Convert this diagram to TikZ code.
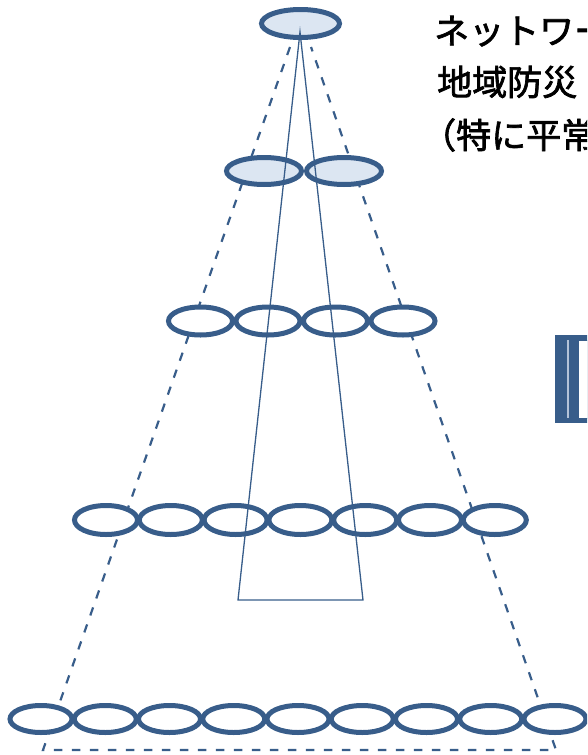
\documentclass[tikz,border=0pt]{standalone}
\usepackage{fontspec}
\newfontfamily\jpfont[FakeBold=2]{Noto Sans CJK JP}
\usetikzlibrary{shapes.geometric}
\definecolor{edgeblue}{HTML}{385D8A}
\definecolor{paleblue}{HTML}{DCE6F2}
\definecolor{stripeblue}{HTML}{B4C3D8}
\begin{document}
\begin{tikzpicture}[x=1pt,y=-1pt,
  ring/.style={ellipse, inner sep=0pt, outer sep=0pt},
  ringfill/.style={ring, draw=none, fill=#1},
  ringline/.style={ring, draw=edgeblue, line width=5pt},
  rowA/.style={minimum width=78pt, minimum height=28pt},
  rowB/.style={minimum width=75pt, minimum height=27pt},
  rowC/.style={minimum width=64pt, minimum height=28pt},
  rowD/.style={minimum width=63pt, minimum height=29pt},
  rowE/.style={minimum width=62pt, minimum height=27pt},
  reach/.style={draw=edgeblue, line width=2.2pt, dash pattern=on 8.5pt off 9.5pt},
  core/.style={draw=edgeblue, line width=1.3pt},
  caption/.style={anchor=west, inner sep=0pt, font=\jpfont\fontsize{35}{40}\selectfont, text=black}
]
\useasboundingbox (0,0) rectangle (587,755);
\clip (0,0) rectangle (587,755);

% outer dashed reach of the hierarchy
\coordinate (tl) at (290,47);
\coordinate (tr) at (311,47);
\coordinate (bl) at (43,750);
\coordinate (br) at (556,750);
\draw[reach] (tl) -- (bl) -- (br) -- (tr);

% rings: fills first, outlines afterwards
\node[ringfill=paleblue, rowA] (a0) at (300.5,23.5) {};
\foreach \i in {0,1}
  \node[ringfill=paleblue, rowB] (b\i) at ({264+80*\i},171) {};
\foreach \i in {0,...,3}
  \node[ringfill=white, rowC] (c\i) at ({200.5+67.5*\i},321) {};
\foreach \i in {0,...,6}
  \node[ringfill=white, rowD] (d\i) at ({106+64.8*\i},520) {};
\foreach \i in {0,...,8}
  \node[ringfill=white, rowE] (e\i) at ({41+64.25*\i},719) {};

\node[ringline, rowA] at (a0) {};
\foreach \i in {0,1} \node[ringline, rowB] at (b\i) {};
\foreach \i in {0,...,3} \node[ringline, rowC] at (c\i) {};
\foreach \i in {0,...,6} \node[ringline, rowD] at (d\i) {};
\foreach \i in {0,...,8} \node[ringline, rowE] at (e\i) {};

% inner solid trapezoid
\coordinate (apex) at (300,32);
\coordinate (il) at (238,600);
\coordinate (ir) at (363,600);
\draw[core] (apex) -- (il) -- (ir) -- cycle;

% striped block at the right edge
\fill[edgeblue] (555,335) rectangle (592,423);
\fill[stripeblue] (567,340) rectangle (569,418);
\filldraw[fill=white, draw=edgeblue, line width=0.8pt] (578,340) rectangle (592,418);

% caption
\node[caption] (t1) at (434,31) {ネットワーク};
\node[caption] (t2) at (437,82) {地域防災};
\node[caption] (t3) at (421,135) {（特に平常};
\end{tikzpicture}
\end{document}
